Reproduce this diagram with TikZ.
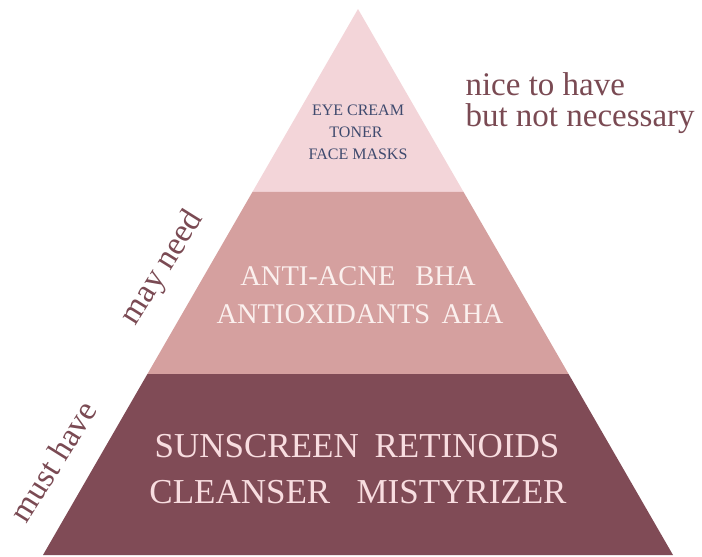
\documentclass[tikz,border=0pt]{standalone}
\usepackage{fontspec}
\setmainfont{Liberation Serif}
\usetikzlibrary{calc}

\definecolor{lagehell}{HTML}{F3D5D9}
\definecolor{lagemitte}{HTML}{D5A09F}
\definecolor{lageunten}{HTML}{804B56}
\definecolor{textblau}{HTML}{3F4A6E}
\definecolor{textweiss}{HTML}{FBF0EE}
\definecolor{textrosa}{HTML}{F8DDE0}
\definecolor{seite}{HTML}{7A4A53}

\begin{document}
\begin{tikzpicture}[x=1pt,y=-1pt,
    oben/.style={anchor=base,text=textblau,font=\fontsize{16}{20}\selectfont},
    mitte/.style={anchor=base,text=textweiss,font=\fontsize{28.5}{32}\selectfont},
    unten/.style={anchor=base,text=textrosa,font=\fontsize{35}{38}\selectfont},
    seitlich/.style={text=seite,font=\fontsize{33}{36}\selectfont}]
    \useasboundingbox (0,0) rectangle (702,557);
    % Eckpunkte der Pyramide:
    \coordinate (spitze) at (358,9);
    \coordinate (linksunten) at (43,555);
    \coordinate (rechtsunten) at (673,555);
    \coordinate (l1) at ($(spitze)!0.335!(linksunten)$); % erste Grenze
    \coordinate (r1) at ($(spitze)!0.335!(rechtsunten)$);
    \coordinate (l2) at ($(spitze)!0.6685!(linksunten)$); % zweite Grenze
    \coordinate (r2) at ($(spitze)!0.6685!(rechtsunten)$);
    % Lagen:
    \fill[lagehell] (spitze) -- (r1) -- (l1) -- cycle;
    \fill[lagemitte] (l1) -- (r1) -- (r2) -- (l2) -- cycle;
    \fill[lageunten] (l2) -- (r2) -- (rechtsunten) -- (linksunten) -- cycle;
    % oberste Lage:
    \node[oben] (eyecream) at (358,115) {EYE CREAM};
    \node[oben] (toner) at (356,137) {TONER};
    \node[oben] (facemasks) at (358,159) {FACE MASKS};
    % mittlere Lage:
    \node[mitte] (antiacne) at (358,285) {ANTI-ACNE\hspace{0.7em}BHA};
    \node[mitte] (antiox) at (360,323) {ANTIOXIDANTS\hspace{0.4em}AHA};
    % unterste Lage:
    \node[unten] (sunscreen) at (357,457) {SUNSCREEN\hspace{0.45em}RETINOIDS};
    \node[unten] (cleanser) at (358,503) {CLEANSER\hspace{0.75em}MISTYRIZER};
    % Beschriftung am Rand:
    \node[seitlich,anchor=base west] (nice) at (462,95) {nice to have};
    \node[seitlich,anchor=base west] (notnec) at (462,126) {but not necessary};
    \node[seitlich,rotate=58] (mayneed) at (163,268) {may need};
    \node[seitlich,rotate=58] (musthave) at (53,461) {must have};
\end{tikzpicture}
\end{document}
